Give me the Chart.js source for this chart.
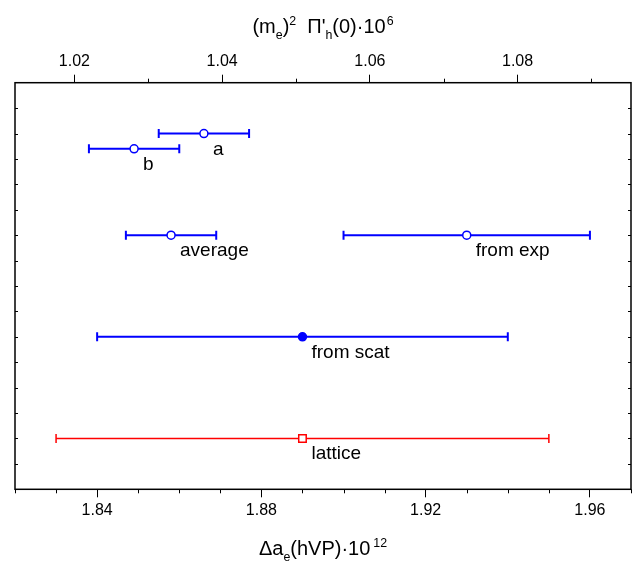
<!DOCTYPE html>
<html><head><meta charset="utf-8">
<script src="https://cdn.jsdelivr.net/npm/chart.js@4/dist/chart.umd.min.js"></script>
<style>html,body{margin:0;padding:0;background:#fff;}#wrap{width:635px;height:562px;}</style>
</head><body><div id="wrap"><canvas id="c" width="635" height="562"></canvas></div>
<script>
// ---- data ----
const categories = ['a', 'b', 'average', 'from exp', 'from scat', 'lattice'];
const centralValues = [1.866, 1.849, 1.858, 1.930, 1.890, 1.890];
const errorValues = [0.011, 0.011, 0.011, 0.030, 0.050, 0.060];
const rowPositions = [14, 13.4, 10, 10, 6, 2];
const bottomTickValues = [1.84, 1.88, 1.92, 1.96];
const bottomTickLabels = ['1.84', '1.88', '1.92', '1.96'];
const bottomMinorTicks = [1.82, 1.83, 1.85, 1.86, 1.87, 1.89, 1.90, 1.91, 1.93, 1.94, 1.95, 1.97];
const topTickValues = [1.02, 1.04, 1.06, 1.08];
const topTickLabels = ['1.02', '1.04', '1.06', '1.08'];
const topMinorTicks = [1.03, 1.05, 1.07, 1.09];
const bottomRange = [1.82, 1.97];
const topToBottomFactor = 1.7985; // Δa_e = factor · (m_e)^2 Π'_h(0)
const rowTicks = [1,2,3,4,5,6,7,8,9,10,11,12,13,14,15];

// ---- styles ----
const seriesColors = ['#0000ff', '#0000ff', '#0000ff', '#0000ff', '#0000ff', '#ff0000'];
const markerShapes = ['circle', 'circle', 'circle', 'circle', 'circle', 'rect'];
const markerFilled = [false, false, false, false, true, false];
const FONT = "'Liberation Sans', Arial, sans-serif";

const datasets = [];
categories.forEach((name, i) => {
  const c = centralValues[i], e = errorValues[i], y = rowPositions[i], col = seriesColors[i];
  const lw = col === '#ff0000' ? 1.5 : 2;
  datasets.push({
    type: 'line', label: name + ' err', order: 2,
    data: [{x: c - e, y: y}, {x: c + e, y: y}],
    showLine: true, borderColor: col, borderWidth: lw,
    pointStyle: 'line', pointRadius: 4.5, pointRotation: 90,
    pointBorderColor: col, pointBorderWidth: lw, pointBackgroundColor: col,
    xAxisID: 'x', yAxisID: 'y'
  });
  datasets.push({
    type: 'scatter', label: name, order: 1,
    data: [{x: c, y: y}],
    pointStyle: markerShapes[i], pointRadius: markerShapes[i] === 'rect' ? 5.3 : 4,
    pointBorderColor: col, pointBorderWidth: 1.5,
    pointBackgroundColor: markerFilled[i] ? col : '#ffffff',
    xAxisID: 'x', yAxisID: 'y'
  });
});

function drawRich(ctx, segs, cx, baseline, size) {
  const parts = segs.map(s => {
    const sz = (s.sub || s.sup) ? size * 0.62 : size;
    ctx.font = sz + 'px ' + FONT;
    return {t: s.t, sz: sz, w: ctx.measureText(s.t).width + (s.gap || 0), dy: s.sub ? size * 0.28 : (s.sup ? -size * 0.42 : 0), gap: s.gap || 0};
  });
  const total = parts.reduce((a, p) => a + p.w, 0);
  let x = cx - total / 2;
  ctx.textBaseline = 'alphabetic'; ctx.textAlign = 'left'; ctx.fillStyle = '#000';
  parts.forEach(p => {
    ctx.font = p.sz + 'px ' + FONT;
    ctx.fillText(p.t, x + p.gap, baseline + p.dy);
    x += p.w;
  });
}

const decor = {
  id: 'decor',
  afterDatasetsDraw(chart) {
    const ctx = chart.ctx, a = chart.chartArea;
    const sx = chart.scales.x, sx2 = chart.scales.x2, sy = chart.scales.y;
    ctx.save();
    // frame
    ctx.strokeStyle = '#000'; ctx.lineWidth = 1.5;
    ctx.strokeRect(a.left, a.top, a.right - a.left, a.bottom - a.top);
    // minor ticks
    ctx.lineWidth = 1;
    ctx.beginPath();
    bottomMinorTicks.forEach(v => { const p = Math.round(sx.getPixelForValue(v)) + 0.5; ctx.moveTo(p, a.bottom); ctx.lineTo(p, a.bottom + 4); });
    topMinorTicks.forEach(v => { const p = Math.round(sx2.getPixelForValue(v)) + 0.5; ctx.moveTo(p, a.top); ctx.lineTo(p, a.top - 4); });
    rowTicks.forEach(v => { const p = Math.round(sy.getPixelForValue(v)) + 0.5; ctx.moveTo(a.left, p); ctx.lineTo(a.left + 3, p); ctx.moveTo(a.right, p); ctx.lineTo(a.right - 3, p); });
    ctx.stroke();
    // point labels
    ctx.font = '19px ' + FONT; ctx.fillStyle = '#000'; ctx.textBaseline = 'alphabetic'; ctx.textAlign = 'left';
    categories.forEach((name, i) => {
      const px = sx.getPixelForValue(centralValues[i]);
      const py = sy.getPixelForValue(rowPositions[i]);
      ctx.fillText(name, px + 9, py + 21);
    });
    // axis titles
    const cx = (a.left + a.right) / 2;
    drawRich(ctx, [{t: '(m'}, {t: 'e', sub: true}, {t: ')'}, {t: '2', sup: true}, {t: '\u03A0\'', gap: 11}, {t: 'h', sub: true}, {t: '(0)\u00B710'}, {t: '6', sup: true, gap: 1}], cx, 33, 20);
    drawRich(ctx, [{t: '\u0394a'}, {t: 'e', sub: true}, {t: '(hVP)\u00B710'}, {t: '12', sup: true, gap: 3}], cx, 555, 20);
    ctx.restore();
  }
};

function axisOpts(pos, range, vals, labels) {
  return {
    type: 'linear', position: pos, min: range[0], max: range[1],
    afterBuildTicks: s => { s.ticks = vals.map(v => ({value: v})); },
    ticks: {callback: (v, i) => labels[i], font: {family: FONT, size: 16}, color: '#000', padding: 4, maxRotation: 0, autoSkip: false},
    grid: {display: true, drawOnChartArea: false, drawTicks: true, tickLength: 8, tickColor: '#000', tickWidth: 1},
    border: {display: false}
  };
}

new Chart(document.getElementById('c'), {
  type: 'scatter',
  data: {datasets: datasets},
  options: {
    responsive: false, devicePixelRatio: 1, animation: false,
    layout: {autoPadding: false, padding: {left: 15, right: 4, top: 47.5, bottom: 37.5}},
    plugins: {legend: {display: false}, tooltip: {enabled: false}},
    scales: {
      x: axisOpts('bottom', bottomRange, bottomTickValues, bottomTickLabels),
      x2: axisOpts('top', [bottomRange[0] / topToBottomFactor, bottomRange[1] / topToBottomFactor], topTickValues, topTickLabels),
      y: {type: 'linear', min: 0, max: 16, display: false}
    }
  },
  plugins: [decor]
});
</script></body></html>
